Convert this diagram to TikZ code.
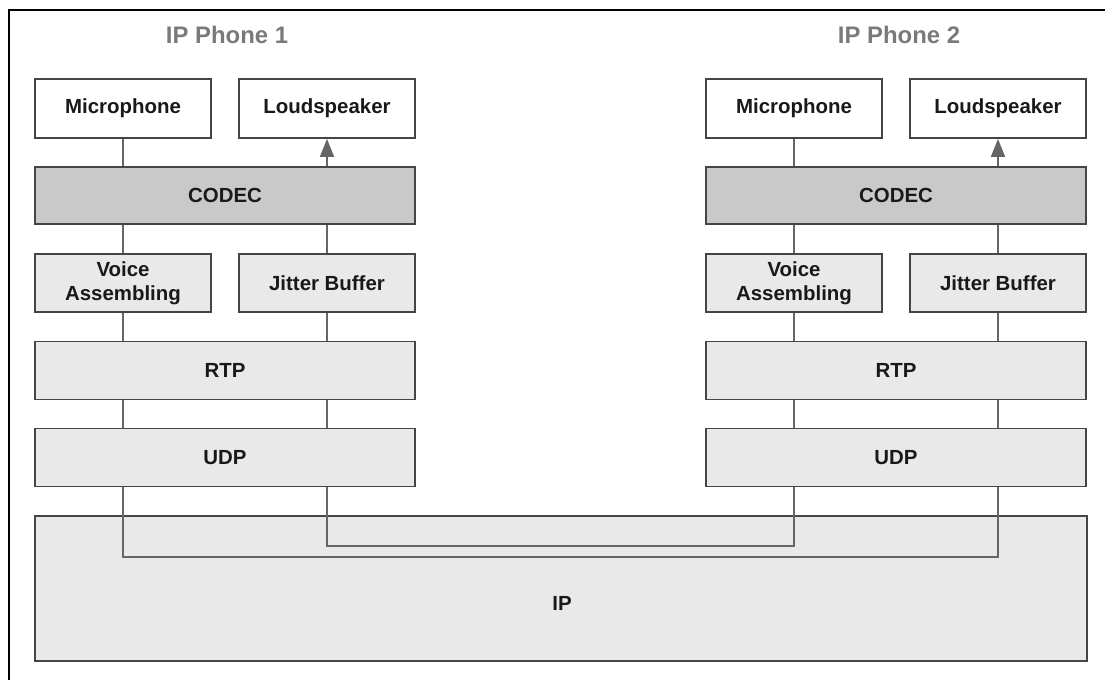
\documentclass[tikz,border=0pt]{standalone}
\usepackage{fontspec}
\setmainfont{Liberation Sans}
\usetikzlibrary{arrows.meta}
\definecolor{boxline}{HTML}{454545}
\definecolor{conn}{HTML}{666666}
\definecolor{codecfill}{HTML}{C9C9C9}
\definecolor{layerfill}{HTML}{E9E9E9}
\definecolor{titlegray}{HTML}{7A7A7A}
\tikzset{
  box/.style={draw=boxline, line width=1.8bp, inner sep=0pt, align=center,
    font=\fontsize{20.5}{24}\selectfont\bfseries, text=black!90},
  devbox/.style={box, fill=white, minimum width=176bp, minimum height=59bp},
  smallbox/.style={box, fill=layerfill, minimum width=176bp, minimum height=58bp},
  widebox/.style={box, fill=layerfill, minimum width=380bp, minimum height=58bp},
  codecbox/.style={box, fill=codecfill, minimum width=380bp, minimum height=57bp},
  conn/.style={draw=conn, line width=1.8bp},
  arr/.style={conn, -{Triangle[length=18bp,width=14bp]}},
  title/.style={font=\fontsize{24}{28}\selectfont\bfseries, text=titlegray}
}
\begin{document}
\begin{tikzpicture}[x=1bp,y=-1bp]
\useasboundingbox (0,0) rectangle (1105,680);
\draw[line width=1.5bp] (9,680) -- (9,10) -- (1105,10);

% titles
\node[title] (t1) at (227,35) {IP Phone 1};
\node[title] (t2) at (899,35) {IP Phone 2};

% IP layer
\node[box, fill=layerfill, minimum width=1052bp, minimum height=145bp] (ip) at (561,588.5) {};
\node[font=\fontsize{20.5}{24}\selectfont\bfseries, text=black!90] (iplabel) at (562,603) {IP};

% Phone 1
\node[devbox] (mic1) at (123,108.5) {Microphone};
\node[devbox] (loud1) at (327,108.5) {Loudspeaker};
\node[codecbox] (codec1) at (225,195.5) {CODEC};
\node[smallbox] (va1) at (123,283) {Voice\\Assembling};
\node[smallbox] (jb1) at (327,283) {Jitter Buffer};
\node[widebox] (rtp1) at (225,370.5) {RTP};
\node[widebox] (udp1) at (225,457.5) {UDP};

% Phone 2
\node[devbox] (mic2) at (794,108.5) {Microphone};
\node[devbox] (loud2) at (998,108.5) {Loudspeaker};
\node[codecbox] (codec2) at (896,195.5) {CODEC};
\node[smallbox] (va2) at (794,283) {Voice\\Assembling};
\node[smallbox] (jb2) at (998,283) {Jitter Buffer};
\node[widebox] (rtp2) at (896,370.5) {RTP};
\node[widebox] (udp2) at (896,457.5) {UDP};

\coordinate (lowA) at (0,557);
\coordinate (lowB) at (0,546);

% connectors phone 1
\draw[conn] (mic1.south) -- (mic1.south |- codec1.north);
\draw[arr] (loud1.south |- codec1.north) -- (loud1.south);
\draw[conn] (va1.north |- codec1.south) -- (va1.north);
\draw[conn] (jb1.north |- codec1.south) -- (jb1.north);
\draw[conn] (va1.south) -- (va1.south |- rtp1.north);
\draw[conn] (jb1.south) -- (jb1.south |- rtp1.north);
\draw[conn] (va1.south |- rtp1.south) -- (va1.south |- udp1.north);
\draw[conn] (jb1.south |- rtp1.south) -- (jb1.south |- udp1.north);

% connectors phone 2
\draw[conn] (mic2.south) -- (mic2.south |- codec2.north);
\draw[arr] (loud2.south |- codec2.north) -- (loud2.south);
\draw[conn] (va2.north |- codec2.south) -- (va2.north);
\draw[conn] (jb2.north |- codec2.south) -- (jb2.north);
\draw[conn] (va2.south) -- (va2.south |- rtp2.north);
\draw[conn] (jb2.south) -- (jb2.south |- rtp2.north);
\draw[conn] (va2.south |- rtp2.south) -- (va2.south |- udp2.north);
\draw[conn] (jb2.south |- rtp2.south) -- (jb2.south |- udp2.north);

% links through IP
\draw[conn] (va1.south |- udp1.south) -- (va1.south |- lowA) -- (jb2.south |- lowA) -- (jb2.south |- udp2.south);
\draw[conn] (jb1.south |- udp1.south) -- (jb1.south |- lowB) -- (va2.south |- lowB) -- (va2.south |- udp2.south);
\end{tikzpicture}
\end{document}
